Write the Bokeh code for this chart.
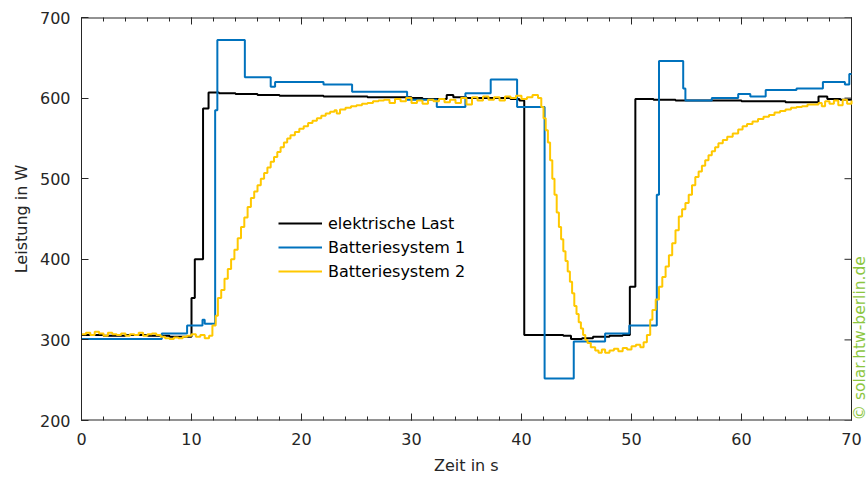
import math
from bokeh.plotting import figure
from bokeh.models import (Range1d, LinearAxis, SingleIntervalTicker, Legend, LegendItem, Label)
from bokeh.embed import file_html
from bokeh.resources import INLINE

# ---------------- data ----------------
t_last = [0, 2, 4, 6, 8, 9, 10.0, 10.3, 11.05, 11.55, 12.5, 14, 16, 18, 20, 22, 24, 26, 28, 30, 31,
          33.2, 33.8, 35, 37, 39, 39.8, 40.25, 42, 43.8, 44.5, 45.5, 46.5, 48, 49.2, 49.85, 50.35,
          52, 54, 56, 58, 60, 62, 64, 66.4, 67.0, 67.8, 69, 70]
p_last = [306, 305, 306, 305, 304, 304, 352, 400, 587, 607, 606, 605, 604, 603, 603, 602, 602, 601,
          601, 600, 599, 604, 601, 600, 600, 599, 597, 306, 306, 305, 301, 302, 304, 305, 306, 366,
          599, 598, 597, 597, 597, 596, 596, 595, 595, 602, 599, 598, 598]

t_bat1 = [0, 7.3, 9.6, 11.0, 11.2, 12.15, 12.35, 14.85, 17.2, 17.6, 22.0, 24.6, 29.6, 32.3, 34.9,
          37.2, 39.6, 42.1, 44.75, 47.6, 49.8, 52.3, 52.5, 54.7, 54.9, 57.3, 59.7, 60.8, 62.2, 65,
          67.4, 69.4, 69.8, 70]
p_bat1 = [301, 308, 318, 325, 320, 585, 672, 626, 614, 620, 617, 608, 598, 589, 606, 623, 589, 252,
          298, 308, 318, 480, 646, 612, 597, 600, 605, 602, 610, 612, 620, 617, 630, 630]

t_bat2 = [0, 0.4, 0.8, 1.2, 1.6, 2.0, 2.4, 2.8, 3.2, 3.6, 4.0, 4.4, 4.8, 5.2, 5.6, 6.0, 6.4, 6.8,
          7.2, 7.6, 8.0, 8.4, 8.8, 9.2, 9.6, 10.0, 10.4, 10.8, 11.2, 11.6, 11.9,
          12.2, 12.4, 12.7, 13.0, 13.3, 13.6, 13.9, 14.2, 14.5, 14.8, 15.1, 15.4, 15.7, 16.0, 16.3,
          16.6, 16.9, 17.2, 17.5, 17.8, 18.1, 18.4, 18.7, 19.0, 19.4, 19.8, 20.2, 20.6, 21.0, 21.4,
          21.8, 22.2, 22.6, 23.0, 23.2, 23.5, 24.0, 24.5, 25.0, 25.5, 26.0, 26.5, 27.0, 27.5, 28,
          28.5, 29, 29.5, 30, 30.5, 31, 31.5, 32, 32.5, 33, 33.5, 34, 34.5, 35, 35.5, 36, 36.5, 37,
          37.5, 38, 38.5, 39, 39.5, 40, 40.5, 41, 41.5, 41.8,
          42.0, 42.2, 42.4, 42.6, 42.8, 43.0, 43.2, 43.4, 43.6, 43.8, 44.0, 44.2, 44.4, 44.6, 44.8,
          45.0, 45.2, 45.4, 45.6, 45.8, 46.0, 46.3, 46.7, 47.0, 47.3, 47.6, 48.0, 48.4, 48.8, 49.2,
          49.6, 50.0, 50.4, 50.8, 51.1, 51.4, 51.7, 51.9, 52.2, 52.5, 52.8, 53.1, 53.4, 53.7, 54.0,
          54.3, 54.6, 54.9, 55.2, 55.5, 55.8, 56.1, 56.4, 56.7, 57.0, 57.3, 57.6, 57.9, 58.3, 58.7,
          59.2, 59.7, 60.1, 60.5, 61.0, 61.5, 62.0, 62.5, 63.0, 63.5, 64.0, 64.5, 65.0, 65.5, 66.0,
          66.5, 67.0, 67.3, 67.6, 68.0, 68.4, 68.8, 69.2, 69.6, 70]
p_bat2 = [307, 309, 306, 310, 308, 305, 309, 307, 306, 308, 305, 307, 306, 309, 305, 307, 308, 306,
          304, 302, 301, 303, 302, 304, 305, 307, 304, 306, 302, 305, 318,
          330, 352, 362, 376, 388, 400, 412, 426, 440, 452, 465, 476, 484, 492, 500,
          507, 514, 521, 527, 533, 539, 545, 550, 554, 558, 562, 565, 569, 572, 575,
          578, 581, 583, 585, 581, 586, 588, 590, 591, 593, 594, 596, 597, 598, 594,
          599, 596, 600, 594, 597, 593, 598, 596, 599, 595, 598, 594, 600, 592, 601, 597, 602, 598,
          601, 597, 602, 600, 603, 599, 601, 604, 600, 589,
          575, 560, 545, 523, 500, 480, 458, 440, 425, 410, 398, 385, 372, 358, 342,
          332, 322, 314, 306, 300, 296, 291, 287, 284, 288, 284, 287, 289, 286, 290,
          288, 292, 294, 291, 297, 306, 325, 337, 350, 366, 378, 391, 405, 420, 436,
          453, 462, 470, 480, 492, 502, 509, 516, 523, 529, 534, 539, 544, 548, 552,
          556, 561, 565, 568, 571, 574, 577, 579, 582, 584, 586, 588, 589, 590, 592,
          592, 594, 590, 596, 593, 597, 591, 598, 593, 597]

series_names = ["elektrische Last", "Batteriesystem 1", "Batteriesystem 2"]
x_label = "Zeit in s"
y_label = "Leistung in W"
watermark = "\u00a9 solar.htw-berlin.de"
x_min, x_max = 0, 70
y_min, y_max = 200, 700
y_ticks = [200, 300, 400, 500, 600, 700]

# ---------------- styling ----------------
FONT = "DejaVu Sans"
AX = "#262626"
PX_PER_X = 11.0          # screen pixels per second on the x axis
RIGHT_MARGIN_PX = 15     # space right of the box (watermark lives there)

p = figure(width=866, height=477, output_backend="svg", toolbar_location=None,
           x_range=Range1d(x_min, x_max + RIGHT_MARGIN_PX / PX_PER_X),
           y_range=Range1d(y_min, y_max),
           x_axis_type=None, y_axis_type=None,
           min_border_left=81, min_border_right=0, min_border_top=17, min_border_bottom=56)
p.grid.visible = False
p.outline_line_color = None
p.background_fill_color = "white"
p.border_fill_color = "white"


def make_axis(ticker, show_labels, label=None, line=True):
    ax = LinearAxis(ticker=ticker)
    ax.axis_line_color = AX if line else None
    ax.axis_line_width = 1
    ax.major_tick_line_color = AX
    ax.minor_tick_line_color = AX
    ax.major_tick_in = 7
    ax.major_tick_out = 0
    ax.minor_tick_in = 4
    ax.minor_tick_out = 0
    if show_labels:
        ax.major_label_text_font = FONT
        ax.major_label_text_font_size = "16px"
        ax.major_label_text_color = AX
        ax.major_label_standoff = 9
    else:
        ax.major_label_text_font_size = "0px"
        ax.major_label_standoff = 0
        ax.major_label_text_alpha = 0
    if label:
        ax.axis_label = label
        ax.axis_label_text_font = FONT
        ax.axis_label_text_font_size = "16px"
        ax.axis_label_text_font_style = "normal"
        ax.axis_label_text_color = AX
        ax.axis_label_standoff = 3
    return ax

xt = lambda: SingleIntervalTicker(interval=10, num_minor_ticks=5)
yt = lambda: SingleIntervalTicker(interval=100, num_minor_ticks=0)

# bottom axis: label padded so that it is centred under the 0..70 box
bx = make_axis(xt(), True, x_label + "\u00a0" * 3, line=False)
bx.major_label_standoff = 12
bx.axis_label_standoff = 8
p.add_layout(bx, "below")
ly = make_axis(yt(), True, y_label)
ly.major_label_standoff = 11
ly.axis_label_standoff = 6
p.add_layout(ly, "left")
p.add_layout(make_axis(xt(), False, line=False), "above")

# box edges (bottom, top, right) and mirrored right-hand ticks
p.segment(x0=[x_min, x_min], y0=[y_min, y_max], x1=[x_max, x_max], y1=[y_min, y_max],
          line_color=AX, line_width=2)
p.segment(x0=[x_max], y0=[y_min], x1=[x_max], y1=[y_max], line_color=AX, line_width=1)
tick_len = 7 / PX_PER_X
p.segment(x0=[x_max] * len(y_ticks), y0=y_ticks, x1=[x_max - tick_len] * len(y_ticks), y1=y_ticks,
          line_color=AX, line_width=1)

r1 = p.step(t_last, p_last, mode="after", line_color="#000000", line_width=2)
r2 = p.step(t_bat1, p_bat1, mode="after", line_color="#0072BD", line_width=2)
r3 = p.step(t_bat2, p_bat2, mode="after", line_color="#FFC800", line_width=2)

legend = Legend(items=[LegendItem(label=series_names[0], renderers=[r1]),
                       LegendItem(label=series_names[1], renderers=[r2]),
                       LegendItem(label=series_names[2], renderers=[r3])],
                location=(197, 139), orientation="vertical")
legend.border_line_color = None
legend.background_fill_alpha = 0
legend.padding = 0
legend.margin = 0
legend.spacing = 4
legend.glyph_width = 44
legend.glyph_height = 20
legend.label_standoff = 6
legend.label_text_font = FONT
legend.label_text_font_size = "16px"
legend.label_text_color = "#000000"
p.add_layout(legend, "center")

wm = Label(x=x_max + 8.5 / PX_PER_X, y=y_min, text=watermark, angle=math.pi / 2,
           text_align="left", text_baseline="alphabetic",
           text_font=FONT, text_font_size="15.5px", text_color="#8CC63E")
p.add_layout(wm)

open("out.html", "w").write(file_html(p, INLINE))
